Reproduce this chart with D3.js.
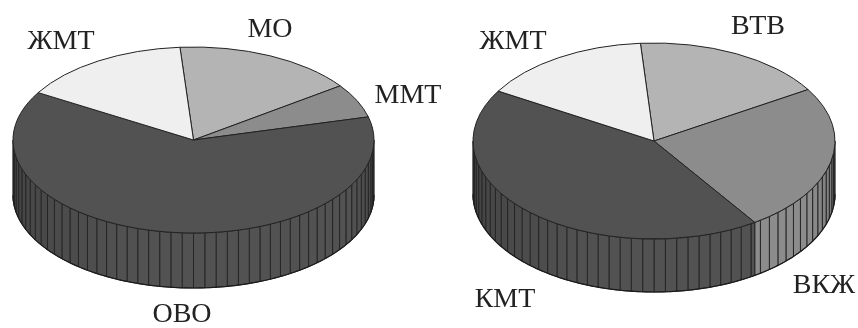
<!DOCTYPE html>
<html>
<head>
<meta charset="utf-8">
<script src="https://cdn.jsdelivr.net/npm/d3@7"></script>
<style>
  html, body { margin: 0; padding: 0; background: #fff; }
  svg { display: block; filter: blur(0.4px); }
  text { font-family: "Liberation Serif", serif; font-size: 28px; fill: #222; }
</style>
</head>
<body>
<div id="chart"></div>
<script>
// Shares of each slice, in percent, clockwise from the first one
const leftCategories = ['МО', 'ММТ', 'ОВО', 'ЖМТ'];
const leftValues = [16.3, 5.9, 62.5, 15.3];
const rightCategories = ['ВТВ', 'ВКЖ', 'КМТ', 'ЖМТ'];
const rightValues = [17.4, 24.4, 42.9, 15.3];

const leftFills = ['#b4b4b4', '#8c8c8c', '#525252', '#efefef'];
const rightFills = ['#b4b4b4', '#8c8c8c', '#525252', '#efefef'];

const leftLabels = [[270, 37], [408, 103], [182, 322], [61, 49]];
const rightLabels = [[758, 34], [824, 293], [505, 307], [513, 49]];

const width = 858;
const height = 328;
const facetStep = 3.6 * Math.PI / 180;

const svg = d3.select('#chart')
    .append('svg')
    .attr('width', width)
    .attr('height', height);

function createPie(categories, values, fills, labels, box)
{
    const g = svg.append('g');
    const squash = box.ry / box.rx;

    const slices = d3.pie()
        .sort(null)
        .startAngle(box.start)
        .endAngle(box.start + 2 * Math.PI)(values);

    // Pie angle (clockwise from north) to screen position
    const px = a => box.cx + box.rx * Math.sin(a);
    const py = a => box.cy - box.ry * Math.cos(a);

    const frontFrom = Math.PI / 2;
    const frontTo = 3 * Math.PI / 2;

    // Wall breaks: regular facets plus the slice boundaries on the front
    const breaks = d3.range(frontFrom, frontTo, facetStep)
        .concat(slices.map(s => s.endAngle).filter(a => a > frontFrom && a < frontTo))
        .sort(d3.ascending);
    const facets = breaks.map((a, i) => [a, i + 1 < breaks.length ? breaks[i + 1] : frontTo]);

    const edge = d3.line().x(d => d[0]).y(d => d[1]);
    const owner = a => {
        const t = a < box.start ? a + 2 * Math.PI : a;
        return slices.findIndex(s => t >= s.startAngle && t < s.endAngle);
    };
    // Edge facets turn darker as the wall bends away
    const shade = d3.scaleLinear()
        .domain([frontFrom, frontFrom + 0.5, frontTo - 1.3, frontTo])
        .range([0.78, 1, 1, 0.72])
        .clamp(true);

    g.selectAll('path.facet')
        .data(facets)
        .enter()
        .append('path')
        .attr('class', 'facet')
        .attr('d', f => {
            const top = d3.range(0, 1.01, 0.25).map(t => {
                const u = f[0] + (f[1] - f[0]) * t;
                return [px(u), py(u)];
            });
            const bottom = top.slice().reverse().map(p => [p[0], p[1] + box.depth]);
            return edge(top.concat(bottom)) + 'Z';
        })
        .attr('fill', f => {
            const base = d3.rgb(fills[owner((f[0] + f[1]) / 2)]);
            return base.darker((1 - shade(f[0])) * 2.2).formatHex();
        })
        .attr('stroke', '#262626')
        .attr('stroke-width', 1);

    // Wall outline
    const outline = d3.range(frontFrom, frontTo + 0.001, 0.02).map(a => [px(a), py(a) + box.depth]);
    g.append('path')
        .attr('d', edge(outline))
        .attr('fill', 'none')
        .attr('stroke', '#1c1c1c')
        .attr('stroke-width', 1.2);

    // Top surface
    const arc = d3.arc().innerRadius(0).outerRadius(box.rx);
    g.append('g')
        .attr('transform', `translate(${box.cx},${box.cy}) scale(1,${squash})`)
        .selectAll('path')
        .data(slices)
        .enter()
        .append('path')
        .attr('d', arc)
        .attr('fill', (d, i) => fills[i])
        .attr('stroke', '#222')
        .attr('stroke-width', 1)
        .attr('vector-effect', 'non-scaling-stroke');

    // Labels
    g.selectAll('text')
        .data(categories)
        .enter()
        .append('text')
        .attr('x', (d, i) => labels[i][0])
        .attr('y', (d, i) => labels[i][1])
        .style('text-anchor', 'middle')
        .text(d => d);
}

const deg = Math.PI / 180;
createPie(leftCategories, leftValues, leftFills, leftLabels,
    { cx: 193.5, cy: 140, rx: 180.5, ry: 93, depth: 55, start: -4.3 * deg });
createPie(rightCategories, rightValues, rightFills, rightLabels,
    { cx: 654, cy: 141, rx: 181, ry: 98, depth: 53, start: -4.3 * deg });
</script>
</body>
</html>
